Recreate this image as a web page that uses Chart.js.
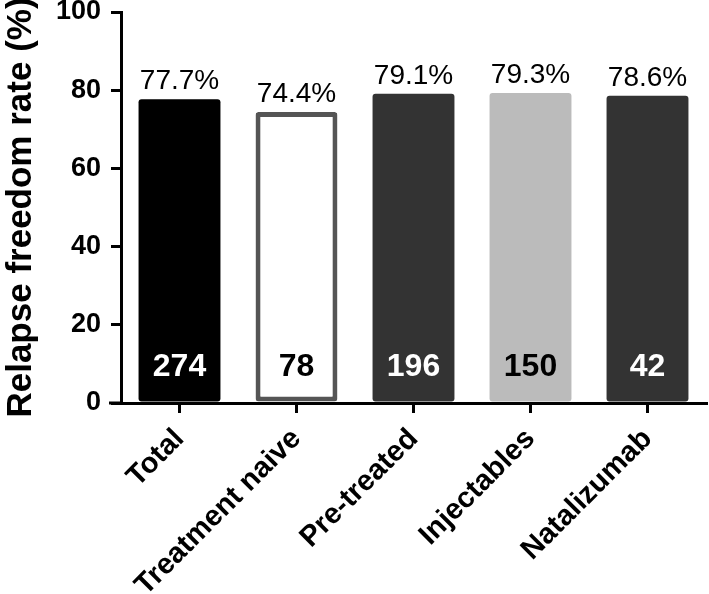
<!DOCTYPE html>
<html>
<head>
<meta charset="utf-8">
<script src="https://cdn.jsdelivr.net/npm/chart.js@4/dist/chart.umd.min.js"></script>
<style>
  html, body { margin: 0; padding: 0; background: #fff; }
  #wrap { width: 709px; height: 594px; }
</style>
</head>
<body>
<div id="wrap"><canvas id="chart" width="709" height="594"></canvas></div>
<script>
// data
const categories = ['Total', 'Treatment naive', 'Pre-treated', 'Injectables', 'Natalizumab'];
const rates = [77.7, 74.4, 79.1, 79.3, 78.6];
const counts = [274, 78, 196, 150, 42];
const yTicks = [0, 20, 40, 60, 80, 100];

// styles
const fillColors = ['#000000', '#ffffff', '#333333', '#bbbbbb', '#333333'];
const edgeColors = ['#000000', '#555555', '#333333', '#bbbbbb', '#333333'];
const edgeWidths = [0, 5, 0, 0, 0];
const countColors = ['#ffffff', '#000000', '#ffffff', '#000000', '#ffffff'];

const FONT = 'Arial, "Liberation Sans", sans-serif';

// percentages above bars, n inside bars, and the little x-axis stub left of the y axis
const labelPlugin = {
    id: 'barLabels',
    afterDatasetsDraw(chart) {
        const ctx = chart.ctx;
        const meta = chart.getDatasetMeta(0);
        ctx.save();
        ctx.textAlign = 'center';
        meta.data.forEach((bar, i) => {
            ctx.fillStyle = '#000';
            ctx.font = '28px ' + FONT;
            ctx.textBaseline = 'alphabetic';
            ctx.fillText(rates[i].toFixed(1) + '%', bar.x, bar.y - 10);

            ctx.fillStyle = countColors[i];
            ctx.font = 'bold 32px ' + FONT;
            ctx.textBaseline = 'middle';
            ctx.fillText(String(counts[i]), bar.x, bar.base - 34);
        });
        ctx.restore();
    },
    afterDraw(chart) {
        const ctx = chart.ctx;
        const area = chart.chartArea;
        ctx.save();
        ctx.strokeStyle = '#000';
        ctx.lineWidth = 3;
        ctx.beginPath();
        ctx.moveTo(area.left - 12, area.bottom);
        ctx.lineTo(area.left, area.bottom);
        ctx.stroke();
        ctx.restore();
    }
};

new Chart(document.getElementById('chart'), {
    type: 'bar',
    data: {
        labels: categories,
        datasets: [{
            data: rates,
            backgroundColor: fillColors,
            borderColor: edgeColors,
            borderWidth: edgeWidths,
            borderRadius: 3,
            borderSkipped: false,
            barPercentage: 0.7,
            categoryPercentage: 1.0
        }]
    },
    options: {
        responsive: false,
        animation: false,
        layout: { padding: { top: 12, right: 3, left: 0, bottom: 0 } },
        plugins: {
            legend: { display: false },
            tooltip: { enabled: false }
        },
        scales: {
            x: {
                grid: { offset: false, drawOnChartArea: false, drawTicks: true, tickLength: 10, lineWidth: 3, color: '#000' },
                border: { display: true, width: 3, color: '#000' },
                ticks: {
                    color: '#000',
                    font: { family: FONT, size: 29, weight: 'bold' },
                    minRotation: 45,
                    maxRotation: 45,
                    padding: 9
                },
                afterFit(scale) {
                    scale.height = 191;
                    scale.paddingLeft = 0;
                    scale.paddingRight = 0;
                }
            },
            y: {
                min: 0,
                max: 100,
                afterBuildTicks(scale) { scale.ticks = yTicks.map(v => ({ value: v })); },
                grid: { drawOnChartArea: false, drawTicks: true, tickLength: 10, lineWidth: 3, color: '#000' },
                border: { display: true, width: 3, color: '#000' },
                ticks: {
                    color: '#000',
                    font: { family: FONT, size: 27, weight: 'bold' },
                    padding: 10
                },
                title: {
                    display: true,
                    text: 'Relapse freedom rate (%)',
                    color: '#000',
                    font: { family: FONT, size: 35, weight: 'bold' },
                    padding: { top: 0, bottom: 0 }
                },
                afterFit(scale) {
                    scale.width = 121;
                    scale.paddingTop = 0;
                    scale.paddingBottom = 0;
                }
            }
        }
    },
    plugins: [labelPlugin]
});
</script>
</body>
</html>
